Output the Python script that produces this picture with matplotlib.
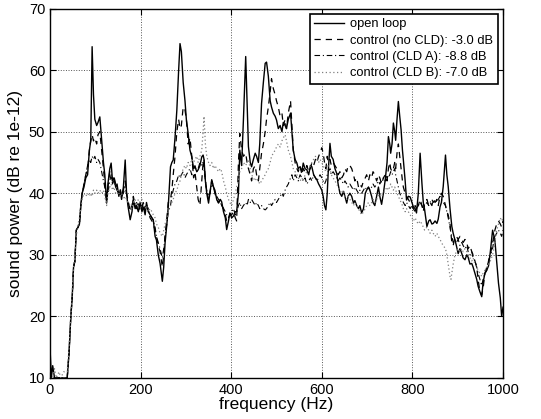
import numpy as np
import matplotlib
matplotlib.use('Agg')
import matplotlib.pyplot as plt

plt.rcParams['font.family'] = ['Liberation Sans', 'DejaVu Sans']

# frequency grid (Hz)
freq = [0, 3, 6, 10, 14, 20, 24, 30, 38,
        42, 46, 49, 52, 55, 58, 62, 65, 68, 71,
        75, 79, 83, 87, 90, 93, 96, 99, 103, 106,
        110, 114, 118, 121, 125, 128, 132, 135, 138, 141,
        145, 148, 152, 155, 158, 162, 166, 169, 172, 177,
        181, 184, 188, 191, 195, 199, 203, 206, 210, 213,
        217, 221, 225, 228, 232, 235, 239, 243, 248, 251,
        254, 258, 261, 266, 269, 272, 276, 280, 284, 287,
        290, 294, 298, 301, 305, 309, 313, 317, 320, 324,
        327, 331, 335, 338, 340, 343, 346, 350, 353, 357,
        361, 364, 368, 372, 376, 379, 383, 387, 390, 394,
        397, 401, 405, 409, 412, 416, 419, 423, 427, 432,
        435, 438, 442, 445, 449, 453, 456, 460, 463, 467,
        471, 475, 478, 482, 486, 489, 493, 497, 500, 504,
        508, 512, 515, 519, 522, 526, 531, 534, 537, 541,
        545, 548, 552, 556, 559, 563, 567, 571, 575, 578,
        582, 586, 589, 593, 596, 600, 603, 606, 609, 612,
        614, 618, 621, 625, 629, 633, 636, 640, 644, 648,
        651, 655, 658, 662, 666, 670, 673, 677, 681, 684,
        688, 692, 696, 699, 703, 706, 710, 713, 717, 721,
        725, 728, 732, 736, 740, 744, 747, 750, 752, 755,
        758, 761, 763, 766, 769, 772, 775, 778, 780, 784,
        787, 791, 795, 799, 802, 806, 809, 813, 817, 821,
        824, 827, 832, 836, 839, 843, 846, 850, 854, 857,
        861, 864, 868, 873, 876, 879, 883, 885, 887, 890,
        894, 897, 901, 905, 909, 912, 916, 920, 923, 927,
        931, 934, 938, 942, 945, 949, 953, 956, 960, 964,
        968, 972, 977, 980, 982, 986, 990, 994, 997, 1000]

open_loop = [15, 10, 12, 10, 10, 10, 10, 10, 10,
             14, 20, 23, 28, 29, 34, 34.5, 35, 38, 40,
             41, 42.5, 43, 47, 48.6, 63.8, 56, 52, 51, 51.5,
             52.4, 48.6, 45, 43, 38.4, 41.6, 44, 44.9, 42, 42.5,
             41, 41.5, 39.5, 40.5, 39, 41, 45.4, 40, 38, 35.7,
             37, 38.9, 37.5, 38, 37, 38.5, 37, 37.8, 36.5, 38.5,
             37, 36.5, 36, 35.7, 33, 32.4, 30, 28.6, 25.7, 28,
             31.9, 35, 37.8, 44.3, 45, 45.4, 49, 53.5, 60, 64.3,
             63, 58, 55, 52, 49.7, 47, 45.9, 44, 44.3, 43.5,
             43.8, 44.5, 45.9, 46.2, 45.5, 42, 40, 38.4, 40, 42.2,
             41, 40.5, 39, 38.4, 39, 38.6, 37, 36, 34.1, 35.5,
             36.8, 36, 36.3, 37, 37, 40, 47, 44.5, 52, 62.2,
             55, 47.6, 45, 44.3, 45.5, 46.5, 46, 45, 48, 54.6,
             58, 61.1, 61.3, 59, 55, 54, 53, 52.5, 51.9, 50.5,
             51, 50, 51.5, 51, 50.5, 52, 53, 50, 47, 45.5,
             44.9, 44, 44.3, 43.5, 44.9, 44, 43.8, 43, 44.5, 44.3,
             43, 42.5, 42.2, 41.5, 41.1, 40.5, 39.5, 38, 37.3, 40,
             43.2, 48.1, 46, 45.5, 44, 43.2, 41.5, 40, 39.5, 40.3,
             39.5, 38.4, 39.5, 40, 39.5, 38.4, 38.8, 38, 37.5, 38,
             36.8, 37.5, 40, 40.5, 41, 40.5, 39.5, 38.5, 38, 39.5,
             41, 39.5, 38.2, 40, 42.2, 45, 49.2, 48, 46.5, 48,
             51.4, 50, 48.6, 52, 54.9, 52.5, 50.3, 47, 45.4, 42,
             38.9, 39.5, 39.4, 38.5, 37.8, 37.5, 36.8, 40, 46.5, 41.6,
             38.5, 37.3, 34.6, 35.5, 35.7, 35, 35.1, 35.5, 35.1, 35.8,
             37.8, 38.5, 41.1, 46.2, 43, 41.1, 37.5, 36, 34.6, 33.5,
             32.4, 31.5, 30.2, 31, 30.2, 29.5, 29.2, 30, 29.6, 28.5,
             28.6, 28, 27, 26, 24.9, 24, 23.2, 25.5, 27, 27.5,
             28.2, 30.5, 34, 33, 32.4, 29, 25.4, 23, 20, 21.5]

no_cld = [13, 10, 10, 10, 10, 10, 10, 10, 10,
          14, 20, 23, 28, 29, 34, 34.5, 35, 38, 40,
          41.5, 43, 44, 47, 48.5, 49.5, 48.5, 49, 48, 49.5,
          50, 47, 44, 41.5, 38.5, 41, 43.5, 43, 42, 42.8,
          41.5, 40.5, 40, 40.8, 39.5, 40.5, 42, 40, 39, 37,
          38, 39.5, 38, 37.5, 38.5, 37, 37.5, 38.5, 37, 38,
          37, 36, 35.5, 35, 34, 33, 31.5, 30.5, 28, 30,
          33, 36, 38.5, 39, 40.5, 43, 46, 50, 52, 50.5,
          51, 54, 53.5, 52, 48, 49, 46, 42.5, 43.5, 41,
          39, 38, 42, 45, 45.5, 42, 40.5, 39, 40, 42,
          41, 40, 39, 38.5, 39, 38, 37.5, 36.5, 35.5, 36,
          36.5, 36.5, 37, 36, 35.5, 45, 49.7, 47, 46, 46.5,
          45, 44, 43, 42, 44, 44.5, 43, 42, 44, 46.5,
          48, 50, 52, 54, 56.5, 58.6, 57, 56, 55, 54,
          52.5, 53, 51, 52, 50.5, 53, 55, 51, 47, 45,
          44, 43.5, 44.5, 43, 44, 43.5, 44.5, 43.5, 44, 45,
          44.5, 45.5, 45, 46, 46.5, 47.4, 46.5, 45, 44, 46,
          45, 45.5, 44.5, 45, 44.5, 44, 43, 43.5, 42.5, 43,
          44, 43.5, 44.5, 44.5, 44, 43, 42, 42.5, 41, 41.5,
          41, 42, 42.5, 43, 42, 43, 42.5, 43.5, 43, 42,
          43, 42.5, 41.5, 42.5, 43, 42, 44, 45, 44, 43.5,
          44, 45, 44, 46.5, 48, 46, 44, 42, 41, 40,
          39.5, 39, 38.5, 38, 37.5, 37, 37.5, 38, 39, 38,
          37, 38.5, 39, 38, 38.5, 38, 39, 38.5, 39, 38,
          39.5, 40, 39.5, 38, 37, 36.5, 35, 33.5, 32, 31.5,
          33, 33, 32.5, 33, 32.5, 32, 32.5, 32, 31, 31.5,
          30.5, 30, 29, 28, 26, 24, 23.5, 24.5, 27, 27.5,
          29, 30, 32, 33, 34, 35, 35.5, 35, 34.5, 35.5]

cld_a = [11, 10, 10, 10, 10, 10, 10, 10, 10,
         14, 20, 23, 28, 29, 34, 34.5, 35, 38, 40,
         41.5, 43, 44.5, 45.5, 45, 46, 45.5, 46, 45, 45.5,
         45, 43.5, 42, 41, 39, 40, 42, 43, 41.5, 42,
         41, 40.5, 40, 40, 39.5, 40, 41, 40, 38.5, 37.5,
         38, 39, 38, 38.5, 38, 37.5, 38, 38.5, 37.5, 38,
         37.5, 36.5, 36, 35.5, 34.5, 33, 32, 31, 29.5, 31,
         33, 35, 37, 38, 39.5, 40.5, 41.5, 42, 43, 42.5,
         43, 43.5, 42.5, 43, 43.5, 44, 43, 44, 44.5, 43.5,
         44, 45, 44.5, 45, 44, 42, 40.5, 39.5, 40, 41.5,
         41, 40, 39.5, 39, 38.5, 38, 37.5, 37, 36.5, 36,
         36.5, 37, 37.5, 36.5, 37, 38, 38.5, 37.5, 38, 38.5,
         38, 39, 38.5, 39, 38.5, 38, 38.5, 38, 37.5, 38,
         37.5, 37.3, 37.5, 38, 38.5, 38, 38.5, 39, 38.5, 39,
         39.5, 40, 39.5, 40.5, 41, 41.5, 42.5, 43, 42, 43,
         42.5, 42, 43, 42.5, 42, 42.5, 41.5, 42, 42.5, 42,
         43, 42.5, 42, 42.5, 43, 42.5, 42, 41.5, 42, 43,
         43.5, 44, 43, 43.5, 43, 42.5, 42, 42.5, 42, 41.5,
         42, 41.5, 41, 41.5, 41, 40.5, 41, 40.5, 40, 40.5,
         40, 40.5, 41, 40.5, 41, 40.5, 41, 41.5, 41, 41.5,
         42, 41.5, 42, 42.5, 42, 43, 42.5, 43, 43.5, 43,
         43.5, 44, 43, 42, 41, 40, 39.5, 39, 38.5, 38,
         38.5, 38, 37.5, 38, 37.5, 38, 37.5, 38, 38.5, 38,
         37.5, 38, 38.5, 38, 38.5, 39, 38.5, 39, 38.5, 39,
         39.5, 39, 38.5, 38, 37, 36, 34.5, 33.5, 33, 32,
         32.5, 32, 32.5, 31.5, 32, 31.5, 31, 31.5, 30.5, 30,
         30.5, 29.5, 29, 28, 27, 26, 25, 26, 27, 28,
         29, 30, 31, 32.5, 33, 33.5, 34, 33.5, 33, 34]

cld_b = [10, 10, 10, 11.5, 10, 11, 10, 11, 11,
         15, 20, 24, 28, 30, 33, 35, 36, 37.5, 39,
         40, 39.5, 40, 39.5, 40, 39.5, 40.5, 40, 40.5, 40,
         40.5, 40, 40.5, 39.5, 38, 40, 41, 41.5, 40.5, 41,
         40, 40.5, 40, 39.5, 40, 39, 39.5, 39, 38.5, 38,
         37.5, 38.5, 39, 38, 39, 38.5, 39, 38, 37.5, 38,
         37, 37.5, 37, 36.5, 36, 35, 34.5, 33.5, 33, 34,
         35, 36, 37, 38, 38.5, 39, 40, 40.5, 41.5, 42,
         43, 44, 44.5, 44, 45, 44.5, 45.5, 45, 45.5, 46,
         45, 46, 47, 50, 52.5, 48, 46, 45, 44.5, 45,
         44, 44.5, 44, 43.5, 44, 43.5, 42, 41, 40, 39,
         38.5, 38, 39, 40, 41, 42, 43.5, 44, 45, 44.5,
         45, 45.5, 44, 43, 42.5, 42, 42.5, 42, 41.5, 42,
         42.5, 43, 43.5, 44, 45, 46, 46.5, 47, 47.5, 48,
         47.5, 48.5, 49, 49.5, 48.5, 47, 46, 45, 44, 43.5,
         43, 42.5, 42, 42.5, 42, 43, 43.5, 44, 44.5, 45,
         45.5, 46, 45.5, 45, 45.5, 45, 44.5, 44, 43.5, 44,
         44.5, 44, 43, 42.5, 42, 41.5, 41, 40.5, 40, 40.5,
         39.5, 39, 39.5, 39, 38.5, 38, 38.5, 38, 37.5, 37,
         36.5, 37, 37.5, 38, 38.5, 38, 38.5, 39, 38.5, 39,
         39.5, 40, 39.5, 40, 40.5, 41, 40.5, 41, 41.5, 41,
         40.5, 41, 40.5, 40, 39.5, 39, 38.5, 38, 37.5, 37,
         37.5, 37, 36.5, 36, 35.5, 36, 35.5, 35, 35.5, 35,
         34.5, 34, 34.5, 34, 33.5, 34, 33.5, 33, 33.5, 33,
         32.5, 32, 31.5, 31, 30, 28.5, 26.5, 26, 27, 28.5,
         30, 30.5, 31, 30.5, 31, 30.5, 31, 30.5, 30, 29.5,
         29, 29.5, 28.5, 28, 27.5, 27, 26.5, 27, 27.5, 28,
         28.5, 29, 30, 31, 32, 34, 35, 36, 35.5, 36]

labels = ['open loop', 'control (no CLD): -3.0 dB',
          'control (CLD A): -8.8 dB', 'control (CLD B): -7.0 dB']

for s in (open_loop, no_cld, cld_a, cld_b):
    assert len(s) == len(freq), len(s)

fig = plt.figure(figsize=(5.41, 4.19), dpi=100)
ax = fig.add_axes([0.0924, 0.0979, 0.8374, 0.8818])

ax.plot(freq, open_loop, color='black', lw=1.0, ls='-', label=labels[0])
ax.plot(freq, no_cld, color='black', lw=0.9, ls=(0, (5, 4)), label=labels[1])
ax.plot(freq, cld_a, color='black', lw=0.8, ls=(0, (5, 2.5, 1, 2.5)), label=labels[2])
ax.plot(freq, cld_b, color='#808080', lw=0.9, ls=(0, (1, 2)), label=labels[3])

ax.set_xlim(0, 1000)
ax.set_ylim(10, 70)
ax.set_xticks(np.arange(0, 1001, 200))
ax.set_yticks(np.arange(10, 71, 10))
ax.grid(True, ls=':', color='#555555', lw=0.7)
ax.tick_params(direction='in', top=True, right=True, labelsize=10.5, length=4, width=0.8)
for sp in ax.spines.values():
    sp.set_linewidth(1.0)

ax.set_xlabel('frequency (Hz)', fontsize=12.5, labelpad=0)
ax.set_ylabel('sound power (dB re 1e-12)', fontsize=12.5, labelpad=4)

leg = ax.legend(loc='upper right', fontsize=9.3, fancybox=False, framealpha=1,
                edgecolor='black', handlelength=2.3, borderaxespad=0.4,
                labelspacing=0.33, handletextpad=0.5, borderpad=0.35)
leg.get_frame().set_linewidth(1.2)

fig.savefig('out.png', dpi=100)
